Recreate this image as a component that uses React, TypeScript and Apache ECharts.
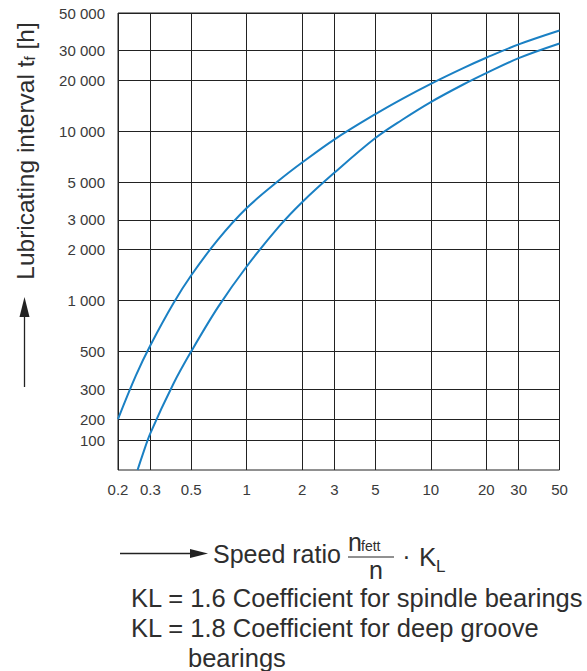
import React, { useEffect, useRef } from 'react';
import * as echarts from 'echarts';

const xTicks = [0.2, 0.3, 0.5, 1, 2, 3, 5, 10, 20, 30, 50];
const xTickLabels = ['0.2', '0.3', '0.5', '1', '2', '3', '5', '10', '20', '30', '50'];
const yTicks = [150, 200, 300, 500, 1000, 2000, 3000, 5000, 10000, 20000, 30000, 50000];
const yTickLabels = ['100', '200', '300', '500', '1 000', '2 000', '3 000', '5 000', '10 000', '20 000', '30 000', '50 000'];

const upperX = [0.2, 0.25, 0.3, 0.4, 0.5, 0.7, 1, 1.5, 2, 3, 5, 7, 10, 15, 20, 30, 50];
const upperY = [200, 361, 546, 966, 1413, 2300, 3524, 5136, 6543, 8974, 12640, 15565, 19090, 23630, 27200, 32640, 39430];
const lowerX = [0.2555, 0.27, 0.3, 0.4, 0.5, 0.7, 1, 1.5, 2, 3, 5, 7, 10, 15, 20, 30, 50];
const lowerY = [100, 120, 165, 323, 502, 919, 1592, 2745, 3815, 5706, 9131, 11710, 14890, 18910, 22080, 27050, 33010];

const FONT = '"Liberation Sans", Arial, Helvetica, sans-serif';
const TXT = '#2e2e2e';
const GRID = '#222222';
const BLUE = '#1a80c4';

function lookup(v: number, ticks: number[], labels: string[]) {
  const i = ticks.findIndex((t) => Math.abs(t - v) / t < 1e-6);
  return i >= 0 ? labels[i] : '';
}

function txt(x: number, y: number, text: string, fontSize: number, align: string = 'left') {
  return {
    type: 'text',
    x,
    y,
    style: {
      text,
      fontSize,
      fontFamily: FONT,
      fill: TXT,
      align,
      textAlign: align,
      verticalAlign: 'middle',
      textVerticalAlign: 'middle',
    },
  };
}

export default function App() {
  const ref = useRef<HTMLDivElement>(null);
  useEffect(() => {
    if (!ref.current) return;
    const chart = echarts.init(ref.current, undefined, { renderer: 'svg' });
    const option: any = {
      animation: false,
      backgroundColor: '#ffffff',
      grid: {
        left: 118,
        top: 13,
        width: 441.5,
        height: 457,
        show: true,
        borderColor: GRID,
        borderWidth: 1,
        backgroundColor: 'transparent',
      },
      xAxis: {
        type: 'log',
        logBase: 10,
        min: 0.2,
        max: 50,
        axisLine: { show: false },
        axisTick: { show: false, customValues: xTicks },
        minorTick: { show: false },
        minorSplitLine: { show: false },
        splitLine: { show: true, lineStyle: { color: GRID, width: 1 } },
        axisLabel: {
          customValues: xTicks,
          formatter: (v: number) => lookup(v, xTicks, xTickLabels),
          fontFamily: FONT,
          fontSize: 15,
          color: '#3a3a3a',
          margin: 12,
          showMinLabel: true,
          showMaxLabel: true,
        },
      },
      yAxis: {
        type: 'log',
        logBase: 10,
        min: 100,
        max: 50000,
        axisLine: { show: false },
        axisTick: { show: false, customValues: yTicks },
        minorTick: { show: false },
        minorSplitLine: { show: false },
        splitLine: { show: true, lineStyle: { color: GRID, width: 1 } },
        axisLabel: {
          customValues: yTicks,
          formatter: (v: number) => lookup(v, yTicks, yTickLabels),
          fontFamily: FONT,
          fontSize: 15,
          color: '#3a3a3a',
          margin: 13,
          showMinLabel: true,
          showMaxLabel: true,
        },
      },
      series: [
        {
          name: 'Upper curve',
          type: 'line',
          data: upperX.map((x, i) => [x, upperY[i]]),
          showSymbol: false,
          smooth: 0.35,
          lineStyle: { color: BLUE, width: 2 },
          itemStyle: { color: BLUE },
          clip: true,
        },
        {
          name: 'Lower curve',
          type: 'line',
          data: lowerX.map((x, i) => [x, lowerY[i]]),
          showSymbol: false,
          smooth: 0.35,
          lineStyle: { color: BLUE, width: 2 },
          itemStyle: { color: BLUE },
          clip: true,
        },
      ],
      graphic: [
        // Y axis title
        {
          type: 'text',
          x: 25,
          y: 151,
          rotation: Math.PI / 2,
          style: {
            text: '{m|Lubricating interval t}{s|f}{m| [h]}',
            rich: {
              m: { fontSize: 24.5, fontFamily: FONT, fill: TXT, lineHeight: 24 },
              s: { fontSize: 15, fontFamily: FONT, fill: TXT, lineHeight: 10, verticalAlign: 'bottom' },
            },
            align: 'center',
            textAlign: 'center',
            verticalAlign: 'middle',
            textVerticalAlign: 'middle',
          },
        },
        // Y arrow
        { type: 'line', shape: { x1: 24.5, y1: 387, x2: 24.5, y2: 310 }, style: { stroke: GRID, lineWidth: 1.3 } },
        { type: 'polygon', shape: { points: [[24.5, 297], [19.5, 317], [29.5, 317]] }, style: { fill: GRID } },
        // X arrow
        { type: 'line', shape: { x1: 120, y1: 553.5, x2: 195, y2: 553.5 }, style: { stroke: GRID, lineWidth: 1.3 } },
        { type: 'polygon', shape: { points: [[208, 553.5], [190, 549], [190, 558]] }, style: { fill: GRID } },
        // X title
        txt(213, 554, 'Speed ratio', 25),
        txt(348, 541.5, 'n', 25),
        txt(361, 546, 'fett', 14),
        { type: 'line', shape: { x1: 348, y1: 557, x2: 394, y2: 557 }, style: { stroke: GRID, lineWidth: 1 } },
        txt(376, 569.5, 'n', 25, 'center'),
        txt(406.5, 555.5, '·', 25, 'center'),
        txt(419, 556.5, 'K', 26),
        txt(436, 566, 'L', 17),
        // Notes
        txt(131, 597.5, 'KL = 1.6 Coefficient for spindle bearings', 25.5),
        txt(131, 627.5, 'KL = 1.8 Coefficient for deep groove', 25.5),
        txt(188, 657.5, 'bearings', 25.5),
      ],
    };
    chart.setOption(option);
    return () => {
      chart.dispose();
    };
  }, []);
  return (
    <div
      ref={ref}
      style={{ position: 'fixed', left: 0, top: 0, width: 587, height: 671, background: '#fff' }}
    />
  );
}
